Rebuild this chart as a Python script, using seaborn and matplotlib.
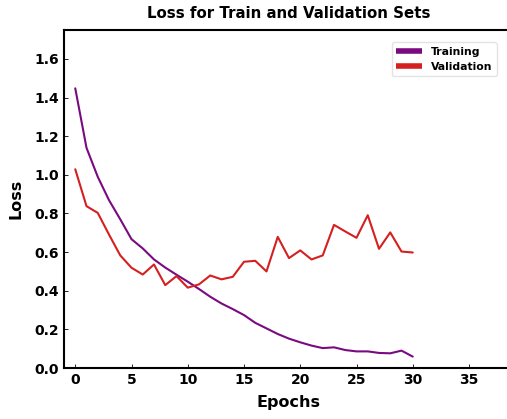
import numpy as np
import pandas as pd
import seaborn as sns
from matplotlib import pyplot as plt

epochs = list(range(31))
train_loss = [1.448, 1.14, 0.99, 0.869, 0.77, 0.667, 0.619, 0.562, 0.52, 0.483,
              0.447, 0.409, 0.369, 0.334, 0.305, 0.274, 0.234, 0.205, 0.176, 0.152,
              0.133, 0.116, 0.103, 0.107, 0.093, 0.086, 0.086, 0.078, 0.076, 0.09, 0.059]
val_loss = [1.029, 0.838, 0.803, 0.691, 0.583, 0.519, 0.484, 0.536, 0.429, 0.476,
            0.416, 0.433, 0.479, 0.459, 0.472, 0.55, 0.555, 0.5, 0.679, 0.569,
            0.609, 0.562, 0.583, 0.741, 0.707, 0.674, 0.791, 0.617, 0.702, 0.603, 0.598]

df = pd.DataFrame({
    "Epoch": epochs * 2,
    "Loss": train_loss + val_loss,
    "Set": ["Training"] * len(epochs) + ["Validation"] * len(epochs),
})

sns.set_style("white")
plt.rcParams["font.family"] = ["DejaVu Sans"]
plt.rcParams["font.weight"] = "bold"
plt.rcParams["text.color"] = "black"
plt.rcParams["axes.labelcolor"] = "black"

fig = plt.figure(figsize=(5.07, 4.19), dpi=100)
ax = fig.add_axes([64 / 507, 51 / 419, 450 / 507, 338 / 419])
sns.lineplot(data=df, x="Epoch", y="Loss", hue="Set",
             palette={"Training": "#7a0a80", "Validation": "#d42020"},
             linewidth=1.5, ax=ax)

ax.set_xlim(-1, 39)
ax.set_ylim(0, 1.75)
ax.set_xticks([0, 5, 10, 15, 20, 25, 30, 35])
ax.set_yticks(np.arange(0, 1.61, 0.2))
ax.set_yticklabels([f"{v:.1f}" for v in np.arange(0, 1.61, 0.2)])
ax.tick_params(direction="in", length=3, width=0.6, labelsize=10, colors="black",
               bottom=True, left=True)
for lab in ax.get_xticklabels() + ax.get_yticklabels():
    lab.set_fontweight("bold")
for s in ax.spines.values():
    s.set_color("black")
    s.set_linewidth(1.5)

ax.set_xlabel("Epochs", fontsize=11.5, fontweight="bold", labelpad=6, color="black")
ax.set_ylabel("Loss", fontsize=11.5, fontweight="bold", labelpad=8, color="black")
ax.set_title("Loss for Train and Validation Sets", fontsize=10.8,
             fontweight="bold", color="black", pad=9)

leg = ax.legend(loc="upper right", bbox_to_anchor=(502 / 507, 1 - 37 / 419),
                bbox_transform=fig.transFigure, fontsize=7.8, frameon=True,
                handlelength=2.4, borderpad=0.4, labelspacing=0.45,
                handletextpad=0.8, fancybox=True)
for line in leg.get_lines():
    line.set_linewidth(4)
    line.set_solid_capstyle("butt")
for t in leg.get_texts():
    t.set_fontweight("bold")
    t.set_color("black")
leg.get_frame().set_edgecolor("#dddddd")

fig.savefig("out.png", dpi=100)
